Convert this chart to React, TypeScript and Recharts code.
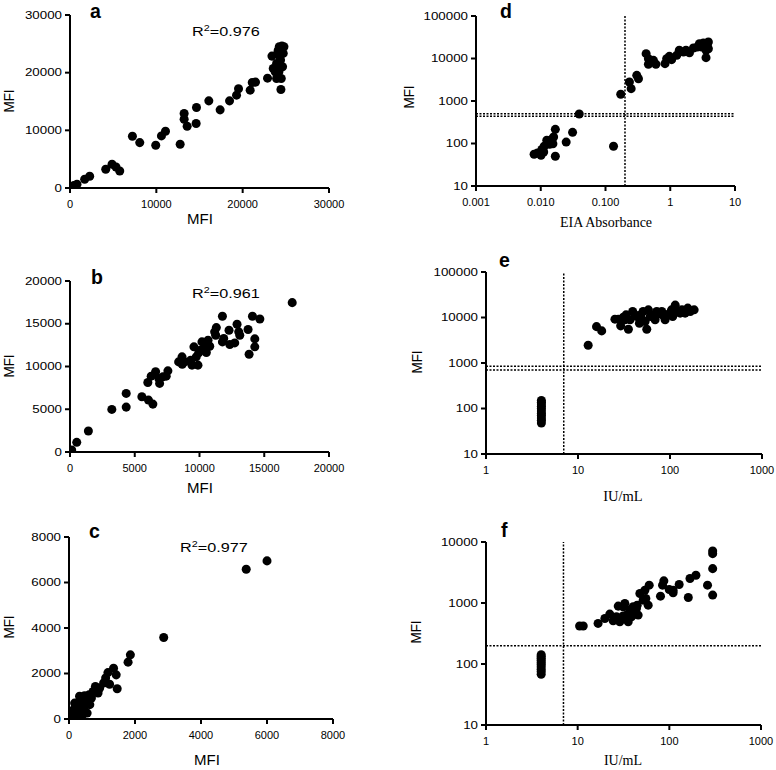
import React from "react";
import { ScatterChart, Scatter, XAxis, YAxis, ReferenceLine } from "recharts";

const SANS = "'Liberation Sans', Arial, Helvetica, sans-serif";
const SERIF = "'Liberation Serif', 'Times New Roman', serif";

// ---- Panel a ----
const aX = [80, 430, 810, 1700, 2280, 4140, 4870, 5330, 5760, 7230, 8080, 9930, 10590, 11060, 12760, 13220, 13220, 13570, 14650, 14610, 16080, 17390, 18480, 19290, 19520, 20870, 21110, 21490, 22880, 23390, 23540, 23770, 23930, 24040, 24120, 24240, 24390, 24470, 24430, 24550, 24700, 24620, 24200, 23930, 24500, 24780, 24310, 24160];
const aY = [120, 410, 640, 1510, 2030, 3240, 4110, 3650, 2950, 8980, 7870, 7410, 9030, 9840, 7590, 12910, 11930, 10710, 13950, 11180, 15110, 13550, 15110, 16100, 17200, 16970, 18300, 18360, 19050, 22870, 20730, 20150, 21600, 23340, 23910, 24490, 22180, 19000, 17080, 24610, 23340, 21020, 20150, 19000, 24200, 24490, 22760, 21600];
const aTicks = [0, 10000, 20000, 30000];

// ---- Panel b ----
const bX = [30, 130, 520, 1420, 3230, 4340, 4340, 5550, 6060, 6400, 6010, 6270, 6610, 6860, 6920, 7170, 7560, 7430, 8390, 8650, 8670, 8850, 9320, 9420, 9570, 9880, 9750, 9940, 10060, 10190, 10450, 10530, 10660, 10790, 11170, 11300, 11250, 11770, 11770, 11870, 12280, 12340, 12720, 12900, 13030, 13110, 13750, 13830, 14090, 14270, 14270, 14660, 17160];
const bY = [80, 230, 1130, 2450, 4980, 6850, 5250, 6460, 6070, 5600, 8130, 8870, 9380, 8600, 8020, 8790, 9490, 8870, 10540, 11130, 10270, 10540, 10740, 10160, 12300, 10160, 11130, 11600, 11910, 12880, 12300, 11630, 13070, 12370, 14050, 14550, 13660, 15880, 12880, 13270, 14240, 12570, 12760, 14940, 14050, 13660, 14320, 11440, 15880, 13230, 12300, 15560, 17470];
const bTicks = [0, 5000, 10000, 15000, 20000];

// ---- Panel c ----
const cX = [5370, 6000, 2870, 1860, 1790, 1460, 1430, 1350, 1230, 1180, 1110, 1050, 930, 800, 680, 550, 610, 470, 320, 420, 240, 320, 170, 220, 100, 40, 140, 270, 370, 70, 20, 170, 530, 730, 880, 470, 630, 200, 320, 420];
const cY = [6580, 6950, 3580, 2820, 2500, 1330, 1940, 2230, 1530, 2040, 1800, 1580, 1360, 1430, 920, 260, 1070, 1020, 1000, 730, 700, 550, 480, 340, 260, 120, 150, 190, 340, 340, 40, 700, 850, 1210, 1140, 550, 630, 40, 70, 190];
const cTicks = [0, 2000, 4000, 6000, 8000];

// ---- Panel d ----
const dX = [0.0079, 0.0089, 0.0104, 0.0101, 0.0111, 0.0113, 0.0132, 0.0145, 0.0137, 0.0158, 0.0154, 0.0168, 0.0168, 0.0124, 0.0247, 0.031, 0.0393, 0.133, 0.172, 0.234, 0.249, 0.304, 0.323, 0.424, 0.46, 0.46, 0.55, 0.6, 0.83, 0.88, 0.97, 1.05, 1.26, 1.38, 1.6, 1.75, 1.98, 2.28, 2.62, 2.82, 3.25, 3.66, 3.88, 3.57, 3.88, 3.57, 3.06, 3.74];
const dY = [56, 60, 72, 53, 63, 86, 108, 123, 96, 142, 99, 215, 50, 119, 108, 183, 494, 86, 1437, 2800, 1950, 4020, 3350, 13000, 9900, 7300, 9060, 7300, 7560, 9900, 11250, 9400, 11900, 15600, 14200, 15600, 13700, 17700, 18650, 22300, 23170, 22300, 24440, 10470, 17000, 15600, 18650, 19300];
const dXTicks = [0.001, 0.01, 0.1, 1, 10];
const dXLabels = ["0.001", "0.010", "0.100", "1", "10"];
const dYTicks = [10, 100, 1000, 10000, 100000];
const dCutX = 0.2;
const dCutY = [500, 440];

// ---- Panel e ----
const eX = [4, 4, 4, 4, 4, 4, 4, 4, 4, 4, 4, 12.9, 15.9, 18.1, 25.2, 29.1, 31.1, 33.3, 35.3, 36.8, 41.7, 43.5, 46.5, 48.0, 49.3, 55.9, 53.6, 58.2, 60.8, 66, 68.9, 71.8, 76.8, 81.4, 88.5, 92.3, 100, 107, 114, 121, 129, 135, 146, 156, 166, 183, 104, 85, 51, 39.3, 27.4, 32.4];
const eY = [48, 55, 62, 70, 78, 88, 100, 112, 125, 138, 150, 2450, 6300, 5080, 9190, 6550, 10150, 11450, 5530, 8900, 11450, 10500, 7500, 11450, 9190, 5530, 8170, 14750, 10500, 11450, 8900, 13550, 12050, 13550, 8900, 11450, 12470, 10500, 18700, 13550, 12470, 14750, 12470, 16070, 13550, 14750, 14750, 10900, 13550, 13550, 9190, 8900];
const eXTicks = [1, 10, 100, 1000];
const eYTicks = [10, 100, 1000, 10000, 100000];
const eCutX = 7;
const eCutY = [850, 700];

// ---- Panel f ----
const fX = [4, 4, 4, 4, 4, 4, 4, 4, 4, 4, 10.5, 11.5, 16.7, 19.8, 22.4, 24.4, 27.7, 28.8, 31.3, 32.7, 34.1, 35.6, 37.1, 38.6, 40.3, 42.1, 45.7, 44.6, 47.7, 51.8, 54.1, 55.4, 58.8, 60.3, 80.1, 84.3, 87.1, 99.7, 110, 110, 128, 161, 168, 195, 261, 297, 297, 297, 297, 26.5, 31.3, 43.8];
const fY = [68, 75, 82, 90, 98, 106, 115, 124, 133, 142, 419, 419, 463, 558, 658, 512, 889, 493, 867, 982, 634, 493, 764, 596, 867, 675, 634, 922, 1432, 1113, 1622, 1186, 922, 1960, 1294, 1960, 2305, 1663, 1622, 1468, 2010, 1230, 2520, 2850, 1960, 7130, 6440, 3660, 1347, 596, 611, 815];
const fXTicks = [1, 10, 100, 1000];
const fYTicks = [10, 100, 1000, 10000];
const fCutX = 7;
const fCutY = [200];

const zip = (xs: number[], ys: number[]) => xs.map((x, i) => ({ x, y: ys[i] }));

const axisLine = { stroke: "#000", strokeWidth: 2 };
const tickLine = { stroke: "#000", strokeWidth: 2 };

function makeYTick(fmt: (v: number) => string) {
  return (props: any) => {
    const { x, y, payload } = props;
    return (
      <text
        x={x}
        y={y}
        dy="0.355em"
        textAnchor="end"
        fontSize={10.5}
        fontFamily={SANS}
        fill="#000"
        transform={`translate(${x} 0) scale(1.27 1) translate(${-x} 0)`}
      >
        {fmt(payload.value)}
      </text>
    );
  };
}

type PanelProps = {
  left: number;
  top: number;
  width: number;
  height: number;
  margin: { top: number; right: number; bottom: number; left: number };
  yWidth: number;
  data: { x: number; y: number }[];
  xDomain: number[];
  yDomain: number[];
  xTicks: number[];
  yTicks: number[];
  log?: boolean;
  xFmt?: (v: number) => string;
  cutX?: number;
  cutY?: number[];
};

function Panel(p: PanelProps) {
  const scale = p.log ? "log" : "linear";
  return (
    <div style={{ position: "absolute", left: p.left, top: p.top, width: p.width, height: p.height }}>
      <ScatterChart width={p.width} height={p.height} margin={p.margin}>
        <XAxis
          type="number"
          dataKey="x"
          scale={scale as any}
          domain={p.xDomain}
          ticks={p.xTicks}
          interval={0}
          allowDataOverflow
          axisLine={axisLine}
          tickLine={tickLine}
          tickSize={5}
          tickMargin={7}
          height={30}
          tick={{ fill: "#000", fontSize: 11, fontFamily: SANS }}
          tickFormatter={p.xFmt ? p.xFmt : (v: number) => String(v)}
        />
        <YAxis
          type="number"
          dataKey="y"
          scale={scale as any}
          domain={p.yDomain}
          ticks={p.yTicks}
          interval={0}
          allowDataOverflow
          axisLine={axisLine}
          tickLine={tickLine}
          tickSize={5}
          tickMargin={3}
          width={p.yWidth}
          tick={makeYTick((v) => String(v))}
        />
        {p.cutX !== undefined && (
          <ReferenceLine x={p.cutX} stroke="#000" strokeWidth={1.5} strokeDasharray="2 1.5" />
        )}
        {(p.cutY || []).map((v) => (
          <ReferenceLine key={v} y={v} stroke="#000" strokeWidth={1.5} strokeDasharray="2 1.5" />
        ))}
        <Scatter data={p.data} fill="#000" isAnimationActive={false} />
      </ScatterChart>
    </div>
  );
}

function YLabel({ cx, cy, text }: { cx: number; cy: number; text: string }) {
  return (
    <text
      transform={`translate(${cx} ${cy}) scale(1.12 1) rotate(-90)`}
      textAnchor="middle"
      dominantBaseline="central"
      fontSize={13.5}
      fontFamily={SANS}
      fill="#000"
    >
      {text}
    </text>
  );
}

function R2({ x, y, value }: { x: number; y: number; value: string }) {
  return (
    <text
      x={x}
      y={y}
      fontSize={13.5}
      fontFamily={SANS}
      fill="#000"
      transform={`translate(${x} 0) scale(1.2 1) translate(${-x} 0)`}
    >
      R<tspan fontSize={9} dy={-5}>2</tspan>
      <tspan dy={5}>{"=" + value}</tspan>
    </text>
  );
}

function Letter({ x, y, t }: { x: number; y: number; t: string }) {
  return (
    <text x={x} y={y} fontSize={19.5} fontWeight="bold" fontFamily={SANS} fill="#000">
      {t}
    </text>
  );
}

export default function App() {
  const dFmt = (v: number) => {
    const i = dXTicks.indexOf(v);
    return i >= 0 ? dXLabels[i] : String(v);
  };
  return (
    <div style={{ position: "absolute", left: 0, top: 0, width: 776, height: 770, background: "#fff" }}>
      <Panel left={0} top={0} width={390} height={240} margin={{ top: 15, right: 61, bottom: 22, left: 0 }} yWidth={70}
        data={zip(aX, aY)} xDomain={[0, 30000]} yDomain={[0, 30000]} xTicks={aTicks} yTicks={aTicks} />
      <Panel left={0} top={240} width={390} height={250} margin={{ top: 41, right: 61, bottom: 8, left: 0 }} yWidth={70}
        data={zip(bX, bY)} xDomain={[0, 20000]} yDomain={[0, 20000]} xTicks={bTicks} yTicks={bTicks} />
      <Panel left={0} top={490} width={390} height={280} margin={{ top: 47, right: 57, bottom: 21, left: 0 }} yWidth={69}
        data={zip(cX, cY)} xDomain={[0, 8000]} yDomain={[0, 8000]} xTicks={cTicks} yTicks={cTicks} />
      <Panel left={390} top={0} width={386} height={240} margin={{ top: 16, right: 41, bottom: 24, left: 0 }} yWidth={86}
        data={zip(dX, dY)} xDomain={[0.001, 10]} yDomain={[10, 100000]} xTicks={dXTicks} yTicks={dYTicks} log xFmt={dFmt}
        cutX={dCutX} cutY={dCutY} />
      <Panel left={390} top={240} width={386} height={250} margin={{ top: 32, right: 14, bottom: 6, left: 0 }} yWidth={96}
        data={zip(eX, eY)} xDomain={[1, 1000]} yDomain={[10, 100000]} xTicks={eXTicks} yTicks={eYTicks} log
        cutX={eCutX} cutY={eCutY} />
      <Panel left={390} top={490} width={386} height={280} margin={{ top: 52, right: 15, bottom: 15, left: 0 }} yWidth={96}
        data={zip(fX, fY)} xDomain={[1, 1000]} yDomain={[10, 10000]} xTicks={fXTicks} yTicks={fYTicks} log
        cutX={fCutX} cutY={fCutY} />

      <svg width={776} height={770} style={{ position: "absolute", left: 0, top: 0, pointerEvents: "none" }}>
        <Letter x={90} y={18} t="a" />
        <Letter x={91} y={284} t="b" />
        <Letter x={89} y={538} t="c" />
        <Letter x={500} y={18} t="d" />
        <Letter x={499} y={267} t="e" />
        <Letter x={501} y={537} t="f" />

        <R2 x={192} y={36} value="0.976" />
        <R2 x={192} y={298} value="0.961" />
        <R2 x={180} y={552} value="0.977" />

        <YLabel cx={9} cy={101} text="MFI" />
        <YLabel cx={9} cy={366} text="MFI" />
        <YLabel cx={9} cy={627} text="MFI" />
        <YLabel cx={409} cy={97} text="MFI" />
        <YLabel cx={417} cy={362} text="MFI" />
        <YLabel cx={416} cy={632} text="MFI" />

        <text x={200} y={218} textAnchor="middle" dominantBaseline="central" fontSize={15} fontFamily={SANS} fill="#000">MFI</text>
        <text x={200} y={487} textAnchor="middle" dominantBaseline="central" fontSize={15} fontFamily={SANS} fill="#000">MFI</text>
        <text x={207} y={759} textAnchor="middle" dominantBaseline="central" fontSize={15} fontFamily={SANS} fill="#000">MFI</text>

        <text x={606} y={222} textAnchor="middle" dominantBaseline="central" fontSize={14} fontFamily={SERIF} fill="#000">EIA Absorbance</text>
        <text x={623} y={496} textAnchor="middle" dominantBaseline="central" fontSize={14.5} fontFamily={SERIF} fill="#000">IU/mL</text>
        <text x={623} y={760} textAnchor="middle" dominantBaseline="central" fontSize={14} fontFamily={SERIF} fill="#000">IU/mL</text>
      </svg>
    </div>
  );
}
